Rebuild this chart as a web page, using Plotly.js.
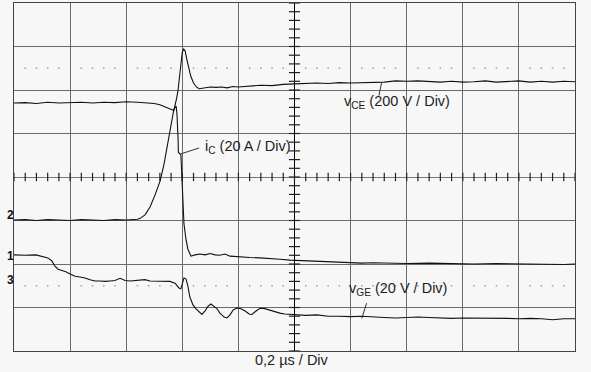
<!DOCTYPE html>
<html><head><meta charset="utf-8">
<script src="https://cdn.plot.ly/plotly-3.0.1.min.js"></script>
<style>html,body{margin:0;padding:0;background:#f7f7f7;}#c{width:591px;height:372px;}</style>
</head><body><div id="c"></div>
<script>
// time in µs (0.2 µs / div), amplitudes in screen divisions
const vceTime = [-1.00,-0.96,-0.92,-0.88,-0.84,-0.80,-0.76,-0.72,-0.68,-0.64,-0.60,-0.56,-0.52,-0.50,-0.48,-0.46,-0.44,-0.43,-0.42,-0.415,-0.41,-0.405,-0.40,-0.395,-0.39,-0.385,-0.38,-0.37,-0.36,-0.35,-0.34,-0.32,-0.30,-0.28,-0.26,-0.24,-0.22,-0.20,-0.16,-0.12,-0.08,-0.04,0.00,0.04,0.08,0.12,0.16,0.20,0.24,0.28,0.32,0.36,0.40,0.44,0.48,0.52,0.56,0.60,0.64,0.68,0.72,0.76,0.80,0.84,0.88,0.92,0.96,1.00];
const vceDiv = [1.70,1.71,1.69,1.72,1.70,1.71,1.72,1.70,1.72,1.71,1.73,1.72,1.71,1.69,1.66,1.61,1.56,1.53,1.82,2.00,2.30,2.62,2.87,2.94,2.90,2.74,2.57,2.32,2.16,2.07,2.03,2.05,2.07,2.06,2.07,2.05,2.08,2.07,2.09,2.11,2.10,2.13,2.14,2.15,2.16,2.15,2.17,2.16,2.17,2.18,2.18,2.21,2.20,2.21,2.20,2.18,2.20,2.18,2.19,2.21,2.18,2.20,2.21,2.18,2.20,2.18,2.20,2.19];

const icTime = [-1.00,-0.96,-0.92,-0.88,-0.84,-0.80,-0.76,-0.72,-0.68,-0.64,-0.60,-0.56,-0.55,-0.533,-0.515,-0.497,-0.479,-0.465,-0.454,-0.444,-0.437,-0.430,-0.422,-0.419,-0.415,-0.414,-0.405,-0.401,-0.398,-0.394,-0.387,-0.380,-0.369,-0.355,-0.337,-0.319,-0.301,-0.283,-0.266,-0.248,-0.230,-0.194,-0.159,-0.123,-0.087,-0.052,-0.016,0.02,0.06,0.10,0.14,0.18,0.20,0.24,0.28,0.32,0.40,0.48,0.56,0.64,0.72,0.80,0.88,0.96,1.00];
const icDiv = [-0.99,-0.98,-1.00,-0.98,-0.99,-1.00,-0.98,-0.99,-1.00,-0.98,-0.99,-0.97,-0.95,-0.87,-0.69,-0.41,-0.09,0.30,0.69,1.03,1.33,1.56,1.63,1.45,0.87,0.57,0.51,-0.05,-0.74,-1.08,-1.43,-1.66,-1.82,-1.79,-1.77,-1.79,-1.76,-1.79,-1.80,-1.77,-1.82,-1.84,-1.85,-1.86,-1.87,-1.89,-1.91,-1.92,-1.93,-1.95,-1.95,-1.97,-1.98,-1.98,-1.97,-1.98,-1.99,-1.98,-1.99,-2.00,-1.99,-2.00,-2.00,-2.01,-2.00];

const vgeTime = [-1.000,-0.961,-0.922,-0.900,-0.879,-0.865,-0.854,-0.843,-0.829,-0.815,-0.800,-0.782,-0.765,-0.747,-0.729,-0.711,-0.693,-0.676,-0.658,-0.640,-0.622,-0.604,-0.586,-0.551,-0.533,-0.515,-0.479,-0.444,-0.426,-0.412,-0.405,-0.401,-0.394,-0.387,-0.380,-0.373,-0.362,-0.351,-0.340,-0.330,-0.319,-0.308,-0.298,-0.287,-0.276,-0.266,-0.251,-0.241,-0.230,-0.219,-0.205,-0.191,-0.176,-0.162,-0.152,-0.137,-0.123,-0.109,-0.094,-0.080,-0.066,-0.052,-0.035,-0.016,0.00,0.04,0.08,0.12,0.16,0.20,0.24,0.28,0.32,0.36,0.40,0.44,0.48,0.52,0.56,0.60,0.64,0.68,0.72,0.76,0.80,0.84,0.88,0.92,0.96,1.00];
const vgeDiv = [-1.79,-1.80,-1.79,-1.82,-1.86,-1.93,-2.05,-2.12,-2.15,-2.18,-2.23,-2.28,-2.30,-2.32,-2.36,-2.39,-2.39,-2.40,-2.39,-2.38,-2.33,-2.38,-2.39,-2.37,-2.36,-2.39,-2.39,-2.40,-2.44,-2.55,-2.57,-2.46,-2.32,-2.34,-2.51,-2.76,-2.94,-3.03,-3.10,-3.16,-3.08,-2.97,-2.92,-2.97,-3.03,-3.13,-3.22,-3.24,-3.17,-3.06,-3.01,-3.03,-3.08,-3.15,-3.16,-3.08,-3.02,-3.02,-3.05,-3.08,-3.11,-3.13,-3.15,-3.16,-3.17,-3.18,-3.17,-3.20,-3.20,-3.21,-3.20,-3.22,-3.23,-3.24,-3.23,-3.22,-3.23,-3.24,-3.25,-3.24,-3.24,-3.25,-3.24,-3.25,-3.26,-3.25,-3.26,-3.28,-3.26,-3.26];

const xDiv = 0.2, yDiv = 1, nSub = 5;
const xRange = [-1, 1], yRange = [-4, 4];
const dottedLevels = [2.5, -2.5];

// graticule helpers built from the axis spacing
const hx = [], hy = [];
for (let i = 0; i <= 10 * nSub; i++) { hx.push(+(xRange[0] + i * xDiv / nSub).toFixed(4)); hy.push(0); }
const vx = [], vy = [];
for (let i = 0; i <= 8 * nSub; i++) { vy.push(+(yRange[0] + i * yDiv / nSub).toFixed(4)); vx.push(0); }
const dx = [], dy = [];
dottedLevels.forEach(l => {
  for (let i = 0; i <= 10 * nSub; i++) { if (i % nSub !== 0) { dx.push(+(xRange[0] + i * xDiv / nSub).toFixed(4)); dy.push(l); } }
});

const line = {color: '#111', width: 1.1};
const traces = [
  {x: dx, y: dy, mode: 'markers', marker: {symbol: 'square', size: 1.6, color: '#a8a8a8'}, hoverinfo: 'skip'},
  {x: hx, y: hy, mode: 'markers', marker: {symbol: 'line-ns', size: 6, line: {width: 1.2, color: '#222'}}, hoverinfo: 'skip'},
  {x: vx, y: vy, mode: 'markers', marker: {symbol: 'line-ew', size: 8, line: {width: 1.2, color: '#222'}}, hoverinfo: 'skip'},
  {x: vceTime, y: vceDiv, mode: 'lines', line: line, name: 'vCE'},
  {x: icTime, y: icDiv, mode: 'lines', line: line, name: 'iC'},
  {x: vgeTime, y: vgeDiv, mode: 'lines', line: line, name: 'vGE'},
  {x: [-1.0125], y: [0], mode: 'markers', marker: {symbol: 'triangle-right', size: 7, color: '#111'}, cliponaxis: false, hoverinfo: 'skip'},
  {x: [1.016], y: [-0.06], mode: 'markers', marker: {symbol: 'triangle-left', size: 6, color: '#111'}, cliponaxis: false, hoverinfo: 'skip'}
];

const fnt = {family: 'Liberation Sans, Arial, sans-serif', size: 14.5, color: '#1e1e1e'};
const mk = {family: 'Liberation Sans, Arial, sans-serif', size: 12, color: '#111'};
const layout = {
  width: 591, height: 372,
  margin: {l: 14, r: 16, t: 3, b: 21, pad: 0},
  paper_bgcolor: '#f7f7f7', plot_bgcolor: '#f7f7f7',
  showlegend: false,
  xaxis: {range: xRange, dtick: xDiv, tick0: 0, showticklabels: false, ticks: '',
          showgrid: true, gridcolor: '#6a6a6a', gridwidth: 1,
          zeroline: true, zerolinecolor: '#000', zerolinewidth: 1.6,
          showline: true, mirror: true, linecolor: '#444', linewidth: 1},
  yaxis: {range: yRange, dtick: yDiv, tick0: 0, showticklabels: false, ticks: '',
          showgrid: true, gridcolor: '#6a6a6a', gridwidth: 1,
          zeroline: true, zerolinecolor: '#777', zerolinewidth: 1,
          showline: true, mirror: true, linecolor: '#444', linewidth: 1},
  shapes: [
    {type: 'line', xref: 'x', yref: 'y', x0: 0.311, y0: 2.18, x1: 0.301, y1: 1.87, line: {color: '#333', width: 1}},
    {type: 'line', xref: 'x', yref: 'y', x0: -0.406, y0: 0.53, x1: -0.340, y1: 0.667, line: {color: '#333', width: 1}},
    {type: 'line', xref: 'x', yref: 'y', x0: 0.240, y0: -3.25, x1: 0.257, y1: -2.90, line: {color: '#333', width: 1}}
  ],
  annotations: [
    {xref: 'x', yref: 'y', x: 0.169, y: 1.72, xanchor: 'left', yanchor: 'middle', showarrow: false, font: fnt, text: 'v<sub>CE</sub> (200 V / Div)'},
    {xref: 'x', yref: 'y', x: -0.327, y: 0.69, xanchor: 'left', yanchor: 'middle', showarrow: false, font: fnt, text: 'i<sub>C</sub> (20 A / Div)'},
    {xref: 'x', yref: 'y', x: 0.186, y: -2.57, xanchor: 'left', yanchor: 'middle', showarrow: false, font: fnt, text: 'v<sub>GE</sub> (20 V / Div)'},
    {xref: 'x', yref: 'paper', x: -0.01, y: -0.026, xanchor: 'center', yanchor: 'middle', showarrow: false, font: fnt, text: '0,2 µs / Div'},
    {xref: 'paper', yref: 'y', x: -0.007, y: -0.87, xanchor: 'center', yanchor: 'middle', showarrow: false, font: mk, text: '<b>2</b>'},
    {xref: 'paper', yref: 'y', x: -0.007, y: -1.82, xanchor: 'center', yanchor: 'middle', showarrow: false, font: mk, text: '<b>1</b>'},
    {xref: 'paper', yref: 'y', x: -0.007, y: -2.36, xanchor: 'center', yanchor: 'middle', showarrow: false, font: mk, text: '<b>3</b>'}
  ]
};
Plotly.newPlot('c', traces, layout, {staticPlot: true, displayModeBar: false});
</script></body></html>
